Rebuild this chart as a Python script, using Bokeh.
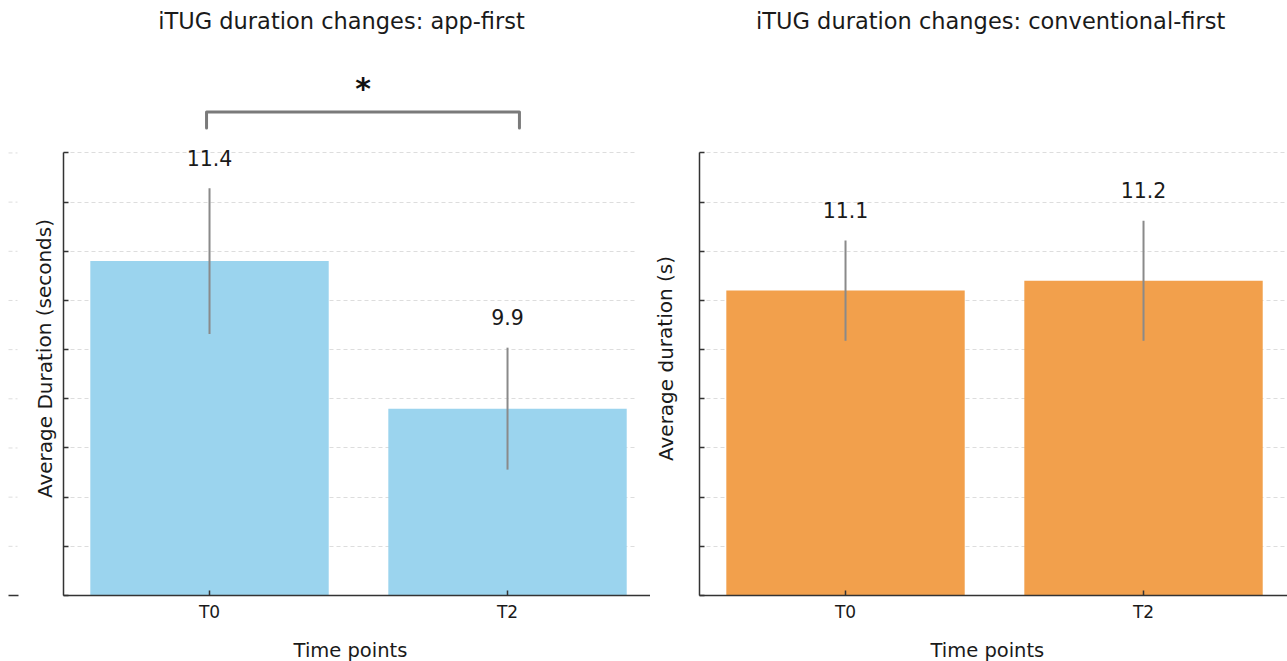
from bokeh.core.properties import value
from bokeh.embed import file_html
from bokeh.layouts import row
from bokeh.models import ColumnDataSource, FixedTicker, Label, Range1d
from bokeh.plotting import figure
from bokeh.resources import INLINE

# iTUG mean durations (s) and standard deviations per time point
time_points = ["T0", "T2"]
app_first_mean = [11.4, 9.9]
app_first_sd = [0.74, 0.62]
conventional_first_mean = [11.1, 11.2]
conventional_first_sd = [0.51, 0.61]
y_ticks = [8.0, 8.5, 9.0, 9.5, 10.0, 10.5, 11.0, 11.5, 12.0, 12.5]
significance = "*"

FONT = "DejaVu Sans"
TEXT = "#1a1a1a"
AXIS = "#333333"
GRID = "#dddddd"
HEIGHT = 661
Y_LOW, Y_AXIS_TOP = 8.0, 12.5      # value axis span
PY = 98.347                        # pixels per second on the value axis
Y_TOP = 14.05                      # room above the axis for titles and the bracket
Y_BOTTOM = Y_TOP - HEIGHT / PY     # room below the axis for tick labels
PX = 298.0                         # pixels per category step
X_START = -0.49                    # where the value axis sits


def y_at(px):
    """data y for a vertical pixel offset from the top of the page"""
    return Y_TOP - px / PY


def panel(title, means, sds, color, ylabel, width, pad, grid_px, title_dx,
          ylab_px, xlab_dx):
    """pad: pixels of frame left of the value axis; grid_px: grid length from the axis"""
    xs = list(range(len(time_points)))
    x_lo = X_START - pad / PX
    x_hi = x_lo + width / PX
    p = figure(width=width, height=HEIGHT, output_backend="svg", toolbar_location=None,
               x_range=Range1d(x_lo, x_hi), y_range=Range1d(Y_BOTTOM, Y_TOP),
               min_border_left=0, min_border_right=0,
               min_border_top=0, min_border_bottom=0)
    p.outline_line_color = None
    p.background_fill_color = "white"
    p.border_fill_color = "white"

    src = ColumnDataSource(dict(
        x=xs, mean=means,
        lo=[m - s for m, s in zip(means, sds)],
        hi=[m + s for m, s in zip(means, sds)],
        lab_y=[m + s + 0.31 for m, s in zip(means, sds)],
        lab=[f"{m:.1f}" for m in means],
    ))
    # bars rise from the bottom of the value axis
    p.vbar(x="x", top="mean", bottom=Y_LOW, width=0.8, source=src,
           fill_color=color, line_color=None)
    p.segment(x0="x", y0="lo", x1="x", y1="hi", source=src,
              line_color="#8a8a8a", line_width=2)
    p.text(x="x", y="lab_y", text="lab", source=src, text_align="center",
           text_baseline="middle", text_font=value(FONT), text_font_size="20.5px",
           text_color=TEXT)

    # x axis: labelled ticks at each time point, along the bottom of the value axis
    xa = p.xaxis[0]
    xa.fixed_location = Y_LOW
    xa.ticker = FixedTicker(ticks=xs)
    xa.bounds = (X_START, x_hi)
    xa.major_label_overrides = {i: t for i, t in enumerate(time_points)}
    xa.axis_line_color = AXIS
    xa.axis_line_width = 1.5
    xa.major_tick_line_color = AXIS
    xa.major_tick_line_width = 1.5
    xa.major_tick_in = 5
    xa.major_tick_out = 0
    xa.minor_tick_line_color = None
    xa.major_label_text_font = FONT
    xa.major_label_text_color = TEXT
    xa.major_label_text_font_size = "17px"
    xa.major_label_standoff = 7
    p.add_layout(Label(x=0.5 + xlab_dx, y=y_at(650), text="Time points",
                       text_align="center", text_baseline="middle", text_font=FONT,
                       text_font_size="19.5px", text_color=TEXT))

    # y axis: unlabelled inward ticks every 0.5 s
    ya = p.yaxis[0]
    ya.fixed_location = X_START
    ya.ticker = FixedTicker(ticks=[], minor_ticks=y_ticks)
    ya.bounds = (Y_LOW, Y_AXIS_TOP)
    ya.axis_line_color = AXIS
    ya.axis_line_width = 1.5
    ya.major_tick_line_color = None
    ya.minor_tick_line_color = AXIS
    ya.minor_tick_line_width = 1.5
    ya.minor_tick_in = 5
    ya.minor_tick_out = 0
    p.add_layout(Label(x=X_START - ylab_px / PX, y=y_at(358), text=ylabel, angle=1.5708,
                       text_align="center", text_baseline="middle", text_font=FONT,
                       text_font_size="20px", text_color=TEXT))

    p.xgrid.grid_line_color = None
    p.ygrid.ticker = FixedTicker(ticks=y_ticks)
    p.ygrid.cross_bounds = (X_START, X_START + grid_px / PX)
    p.ygrid.grid_line_color = GRID
    p.ygrid.grid_line_dash = "4 3"
    p.ygrid.grid_line_width = 1

    p.add_layout(Label(x=0.5 + title_dx, y=y_at(20), text=title, text_align="center",
                       text_baseline="middle", text_font=FONT, text_font_size="22.5px",
                       text_color=TEXT))
    return p


# short tick stubs at the far left edge
edge = figure(width=20, height=HEIGHT, output_backend="svg", toolbar_location=None,
              x_range=Range1d(0, 20), y_range=Range1d(Y_BOTTOM, Y_TOP),
              x_axis_location=None, y_axis_location=None,
              min_border_left=0, min_border_right=0,
              min_border_top=0, min_border_bottom=0)
edge.outline_line_color = None
edge.xgrid.grid_line_color = None
edge.ygrid.grid_line_color = None
edge.segment(x0=8, x1=17, y0=y_ticks[1:], y1=y_ticks[1:], line_color=GRID,
             line_dash="4 3", line_width=1)
edge.segment(x0=8, x1=18, y0=y_ticks[0], y1=y_ticks[0], line_color=AXIS, line_width=1.5)

left = panel("iTUG duration changes: app-first", app_first_mean, app_first_sd,
             "#9bd4ee", "Average Duration (seconds)", 630, 43, 574,
             -0.057, 19, -0.027)

# significance bracket between T0 and T2
bx0, bx1 = -0.01, 1.04
by, leg = 12.917, 12.754
left.line(x=[bx0, bx0, bx1, bx1], y=[leg, by, by, leg], line_color="#7a7a7a",
          line_width=3, line_join="round", line_cap="round")
left.add_layout(Label(x=(bx0 + bx1) / 2, y=13.16, text=significance, text_align="center",
                      text_baseline="middle", text_font=FONT, text_font_style="bold",
                      text_font_size="30px", text_color="#111111"))

right = panel("iTUG duration changes: conventional-first", conventional_first_mean,
              conventional_first_sd, "#f2a04c", "Average duration (s)", 637, 49, 600,
              -0.013, 34, -0.024)

layout = row(edge, left, right)
open("out.html", "w").write(file_html(layout, INLINE))
